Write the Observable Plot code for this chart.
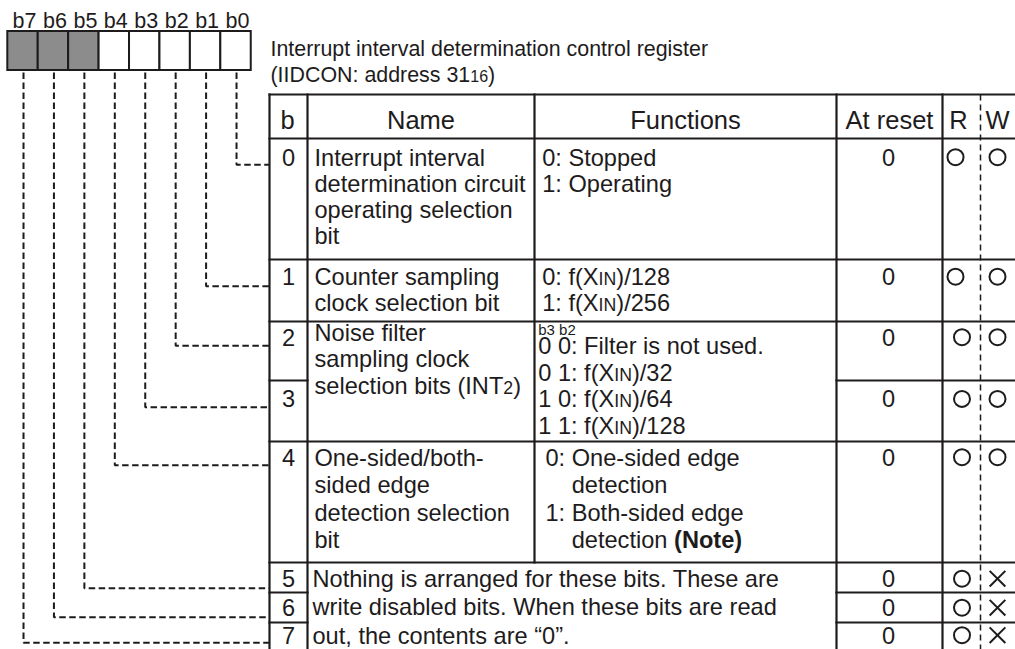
<!DOCTYPE html>
<html>
<head>
<meta charset="utf-8">
<script src="https://cdn.jsdelivr.net/npm/d3@7"></script>
<script src="https://cdn.jsdelivr.net/npm/@observablehq/plot@0.6"></script>
<style>
  html, body { margin: 0; padding: 0; background: #fff; overflow: hidden; }
  #chart { width: 1015px; height: 649px; overflow: hidden; }
</style>
</head>
<body>
<div id="chart"></div>
<script>
// ---------------- DATA ----------------
const bitLabels = ["b7", "b6", "b5", "b4", "b3", "b2", "b1", "b0"];
const reservedBits = ["b7", "b6", "b5"];
const registerTitle = "Interrupt interval determination control register";
const registerAddress = "(IIDCON: address 31_{16})";
const headers = ["b", "Name", "Functions", "At reset", "R", "W"];
const bitNumbers = ["0", "1", "2", "3", "4", "5", "6", "7"];
// each cell covers these bit numbers
const cellBits = [[0], [1], [2, 3], [4], [5, 6, 7]];
const nameCells = [
  ["Interrupt interval", "determination circuit", "operating selection", "bit"],
  ["Counter sampling", "clock selection bit"],
  ["Noise filter", "sampling clock", "selection bits (INT_{2})"],
  ["One-sided/both-", "sided edge", "detection selection", "bit"],
  ["Nothing is arranged for these bits. These are", "write disabled bits. When these bits are read", "out, the contents are \u201C0\u201D."]
];
const functionCells = [
  ["0: Stopped", "1: Operating"],
  ["0: f(X_{IN})/128", "1: f(X_{IN})/256"],
  ["0 0: Filter is not used.", "0 1: f(X_{IN})/32", "1 0: f(X_{IN})/64", "1 1: f(X_{IN})/128"],
  ["0: One-sided edge", "detection", "1: Both-sided edge", "detection *{(Note)}"],
  null
];
const functionNote = [null, null, "b3 b2", null, null]; // small heading above a cell's code list
const resetValues = ["0", "0", "0", "0", "0", "0", "0", "0"];
const readable = [true, true, true, true, true, true, true, true];
const writable = [true, true, true, true, true, false, false, false];

// ---------------- LAYOUT ----------------
const L = {
  font: "'Liberation Sans', Arial, Helvetica, sans-serif",
  ink: "#1e1b1c",
  gray: "#8c8c8c",
  box: { x0: 7.3, pitch: 30.43, top: 31, bottom: 70, labelY: 27, labelDx: 1.5, labelSize: 21.5 },
  connector: { startY: 72, endX: 269, y: [164.3, 285.7, 345.3, 406.7, 464.7, 587.7, 616.7, 642.3] },
  cols: { left: 269, b: 307, name: 534, func: 836, reset: 942, rw: 980, right: 1040 },
  top: 94,
  headerBottom: 138,
  rowEdges: [138, 259, 321, 380, 441, 562, 592, 622, 662], // bit i spans rowEdges[i]..rowEdges[i+1]
  title: { x: 270, y: [55, 81.7], size: 21.4 },
  header: { y: 128, size: 25.5, x: [287, 420.5, 685, 889, 958, 997] },
  bodySize: 23.6,
  bitX: 288,
  bitY: [165, 284.5, 345, 406.7, 465, 586.5, 615.5, 643],
  resetX: 888,
  rX: [955, 955, 961.5, 961.5, 961.5, 961.5, 961.5, 961.5],
  wX: 997,
  markDy: -8.3,
  cells: [
    { nameX: 314, nameY: 165, funcX: 541.7, funcY: 165, step: 26.1 },
    { nameX: 314, nameY: 284.5, funcX: 541.7, funcY: 284, step: 26 },
    { nameX: 314, nameY: 340, funcX: 537.7, funcY: 353.3, step: 26.7, noteY: 334 },
    { nameX: 314, nameY: 465, funcX: 545, funcY: 465, step: 27.6 },
    { nameX: 312, nameY: 586.7, step: 28.2 }
  ],
  indent: 26.2,
  noteSize: 15
};

// ---------------- DERIVED TABLES ----------------
const boxes = bitLabels.map((b, i) => ({
  bit: b,
  x1: L.box.x0 + i * L.box.pitch,
  x2: L.box.x0 + (i + 1) * L.box.pitch,
  cx: L.box.x0 + (i + 0.5) * L.box.pitch,
  reserved: reservedBits.includes(b)
}));

const connectorPts = boxes.flatMap(d => {
  const n = +d.bit.slice(1);
  const yc = L.connector.y[n];
  return [
    { bit: d.bit, x: d.cx + 0.5, y: L.connector.startY },
    { bit: d.bit, x: d.cx + 0.5, y: yc },
    { bit: d.bit, x: L.connector.endX, y: yc }
  ];
});

// grid segments
const C = L.cols;
const bottom = L.rowEdges[L.rowEdges.length - 1];
const segs = [];
segs.push({ x1: C.left, x2: C.right, y1: L.top, y2: L.top });
segs.push({ x1: C.left, x2: C.right, y1: L.headerBottom, y2: L.headerBottom });
cellBits.forEach(bits => {
  const last = bits[bits.length - 1];
  const yEnd = L.rowEdges[last + 1];
  if (last < 7) segs.push({ x1: C.left, x2: C.right, y1: yEnd, y2: yEnd });
  bits.slice(1).forEach(b => {
    const y = L.rowEdges[b];
    segs.push({ x1: C.left, x2: C.b, y1: y, y2: y });
    segs.push({ x1: C.func, x2: C.right, y1: y, y2: y });
  });
});
[C.left, C.b, C.func, C.reset].forEach(x => segs.push({ x1: x, x2: x, y1: L.top, y2: bottom }));
const mergedIdx = functionCells.findIndex(f => f === null);
const nameColBottom = L.rowEdges[cellBits[mergedIdx][0]];
segs.push({ x1: C.name, x2: C.name, y1: L.top, y2: nameColBottom });
const dashSeg = [{ x1: C.rw, x2: C.rw, y1: L.top, y2: bottom }];

// texts
const nameLines = nameCells.flatMap((lines, c) =>
  lines.map((t, j) => ({ text: t, x: L.cells[c].nameX, y: L.cells[c].nameY + j * L.cells[c].step })));
const funcLines = functionCells.flatMap((lines, c) =>
  lines ? lines.map((t, j) => ({
    text: t,
    x: L.cells[c].funcX + (/^\d/.test(t) ? 0 : L.indent),
    y: L.cells[c].funcY + j * L.cells[c].step
  })) : []);
const noteLines = functionNote.flatMap((t, c) => t ? [{ text: t, x: L.cells[c].funcX, y: L.cells[c].noteY }] : []);

const rw = bitNumbers.map((b, i) => ({ bit: b, i, y: L.bitY[i] + L.markDy, r: readable[i], w: writable[i] }));

const txt = { fill: L.ink, fontFamily: L.font, lineAnchor: "bottom" };

const plot = Plot.plot({
  width: 1015,
  height: 649,
  margin: 0,
  x: { domain: [0, 1015], range: [0, 1015], axis: null },
  y: { domain: [0, 649], range: [0, 649], axis: null },
  style: { background: "white" },
  marks: [
    // register boxes
    Plot.rect(boxes.filter(d => d.reserved), { x1: "x1", x2: "x2", y1: () => L.box.top, y2: () => L.box.bottom, fill: L.gray, stroke: L.ink, strokeWidth: 2 }),
    Plot.rect(boxes.filter(d => !d.reserved), { x1: "x1", x2: "x2", y1: () => L.box.top, y2: () => L.box.bottom, fill: "white", stroke: L.ink, strokeWidth: 2 }),
    Plot.text(boxes, { ...txt, x: d => d.cx + L.box.labelDx, y: () => L.box.labelY, text: "bit", textAnchor: "middle", fontSize: L.box.labelSize }),
    // connectors
    Plot.line(connectorPts, { x: "x", y: "y", z: "bit", stroke: L.ink, strokeWidth: 2, strokeDasharray: "6.5,3.5", strokeLinecap: "butt", strokeLinejoin: "miter" }),
    // table grid
    Plot.link(segs, { x1: "x1", y1: "y1", x2: "x2", y2: "y2", stroke: L.ink, strokeWidth: 2.2, strokeLinecap: "square" }),
    Plot.link(dashSeg, { x1: "x1", y1: "y1", x2: "x2", y2: "y2", stroke: L.ink, strokeWidth: 1.5, strokeDasharray: "6,4" }),
    // title
    Plot.text([registerTitle, registerAddress], { ...txt, x: () => L.title.x, y: (d, i) => L.title.y[i], text: d => d, textAnchor: "start", fontSize: L.title.size }),
    // header
    Plot.text(headers, { ...txt, x: (d, i) => L.header.x[i], y: () => L.header.y, text: d => d, textAnchor: "middle", fontSize: L.header.size }),
    // bit numbers
    Plot.text(bitNumbers, { ...txt, x: () => L.bitX, y: (d, i) => L.bitY[i], text: d => d, textAnchor: "middle", fontSize: L.bodySize }),
    // names & functions
    Plot.text(nameLines, { ...txt, x: "x", y: "y", text: "text", textAnchor: "start", fontSize: L.bodySize }),
    Plot.text(funcLines, { ...txt, x: "x", y: "y", text: "text", textAnchor: "start", fontSize: L.bodySize }),
    Plot.text(noteLines, { ...txt, x: "x", y: "y", text: "text", textAnchor: "start", fontSize: L.noteSize }),
    // at reset
    Plot.text(resetValues, { ...txt, x: () => L.resetX, y: (d, i) => L.bitY[i], text: d => d, textAnchor: "middle", fontSize: L.bodySize }),
    // R / W marks
    Plot.dot(rw.filter(d => d.r), { x: d => L.rX[d.i], y: "y", r: 8, stroke: L.ink, strokeWidth: 2, fill: "none" }),
    Plot.dot(rw.filter(d => d.w), { x: () => L.wX, y: "y", r: 8, stroke: L.ink, strokeWidth: 2, fill: "none" }),
    Plot.dot(rw.filter(d => !d.w), { x: () => L.wX, y: "y", r: 7.2, symbol: "times", stroke: L.ink, strokeWidth: 2 })
  ]
});

// rich text: _{...} -> smaller text, *{...} -> bold
function richify(svg) {
  svg.querySelectorAll("text, tspan").forEach(el => {
    for (const node of Array.from(el.childNodes)) {
      if (node.nodeType !== 3) continue;
      const s = node.nodeValue;
      if (!/[_*]\{/.test(s)) continue;
      const frag = document.createDocumentFragment();
      let last = 0;
      s.replace(/([_*])\{([^}]*)\}/g, (m, k, inner, off) => {
        if (off > last) frag.appendChild(document.createTextNode(s.slice(last, off)));
        const t = document.createElementNS("http://www.w3.org/2000/svg", "tspan");
        if (k === "_") t.setAttribute("font-size", "0.75em");
        else t.setAttribute("font-weight", "bold");
        t.textContent = inner;
        frag.appendChild(t);
        last = off + m.length;
        return m;
      });
      if (last < s.length) frag.appendChild(document.createTextNode(s.slice(last)));
      el.replaceChild(frag, node);
    }
  });
}
richify(plot);
document.getElementById("chart").appendChild(plot);
</script>
</body>
</html>
